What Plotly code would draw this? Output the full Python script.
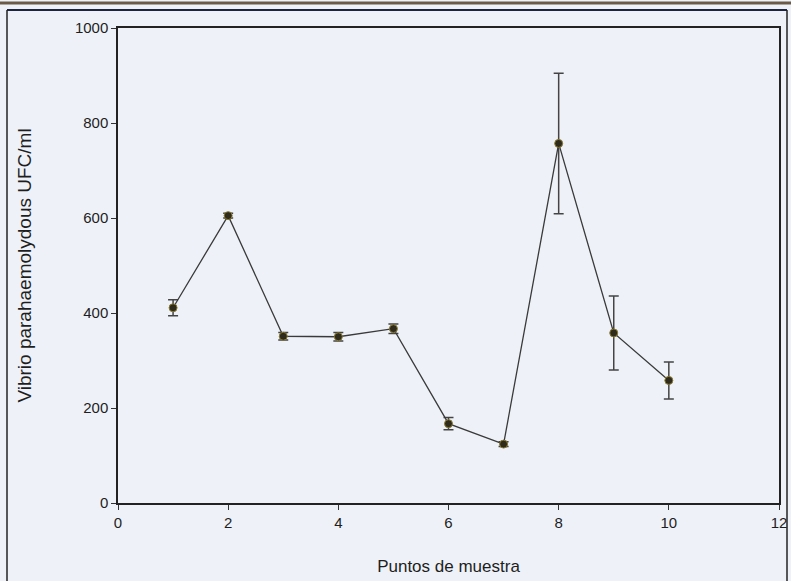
import plotly.graph_objects as go

puntos = [1, 2, 3, 4, 5, 6, 7, 8, 9, 10]
ufc = [411, 605, 351, 350, 367, 167, 124, 757, 358, 258]
err = [17, 5, 8, 9, 10, 13, 5, 148, 78, 39]

x_ticks = [0, 2, 4, 6, 8, 10, 12]
y_ticks = [0, 200, 400, 600, 800, 1000]

FONT = "Liberation Sans Narrow, Arial Narrow, Liberation Sans, Arial, sans-serif"
INK = "#1e1e1e"

L, R, T, B = 118, 12, 28, 78
W, H = 791, 581
PW, PH = W - L - R, H - T - B

def px(x):
    return (x - L) / PW

def py(y):
    return (H - B - y) / PH

fig = go.Figure()
fig.add_trace(go.Scatter(
    x=puntos, y=ufc, mode="lines+markers",
    line=dict(color="#3a3a3a", width=1.3),
    marker=dict(size=8, color="#2f2b1c", line=dict(color="#8a7a30", width=1)),
    error_y=dict(type="data", array=err, visible=True, color="#444444",
                 thickness=1.5, width=5),
    showlegend=False,
))

fig.update_layout(
    width=W, height=H,
    margin=dict(l=L, r=R, t=T, b=B),
    paper_bgcolor="#eef2f8",
    plot_bgcolor="#eef2f8",
    font=dict(family=FONT, color=INK),
    xaxis=dict(
        range=[0, 12], tickvals=x_ticks, ticktext=[str(v) for v in x_ticks],
        automargin=False,
        showgrid=False, zeroline=False, showline=True, linecolor="#222222", linewidth=1.5,
        mirror=True, ticks="outside", ticklen=5, tickcolor="#333333",
        tickfont=dict(size=15, family=FONT, color=INK),
        title=dict(text="Puntos de muestra", font=dict(size=17, family=FONT, color=INK), standoff=30),
    ),
    yaxis=dict(
        range=[0, 1000], tickvals=y_ticks, ticktext=[str(v) for v in y_ticks],
        automargin=False,
        showgrid=False, zeroline=False, showline=True, linecolor="#222222", linewidth=1.5,
        mirror=True, ticks="outside", ticklen=5, tickcolor="#333333",
        tickfont=dict(size=15, family=FONT, color=INK),
        title=dict(text="Vibrio parahaemolydous UFC/ml", font=dict(size=19, family=FONT, color=INK), standoff=38),
    ),
)

# scanned page frame
fig.add_shape(type="line", xref="paper", yref="paper",
              x0=px(7), x1=px(787), y0=py(10), y1=py(10),
              line=dict(color="#1d2440", width=2))
fig.add_shape(type="line", xref="paper", yref="paper",
              x0=px(0), x1=px(791), y0=py(3), y1=py(3),
              line=dict(color="#6b5a48", width=3))
fig.add_shape(type="line", xref="paper", yref="paper",
              x0=px(7), x1=px(7), y0=py(10), y1=py(581),
              line=dict(color="#222222", width=1.5))
fig.add_shape(type="line", xref="paper", yref="paper",
              x0=px(787), x1=px(787), y0=py(10), y1=py(581),
              line=dict(color="#222222", width=1.5))

fig.write_html("out.html", config={"displayModeBar": False},
               post_script="document.body.style.margin='0';document.body.style.overflow='hidden';")
